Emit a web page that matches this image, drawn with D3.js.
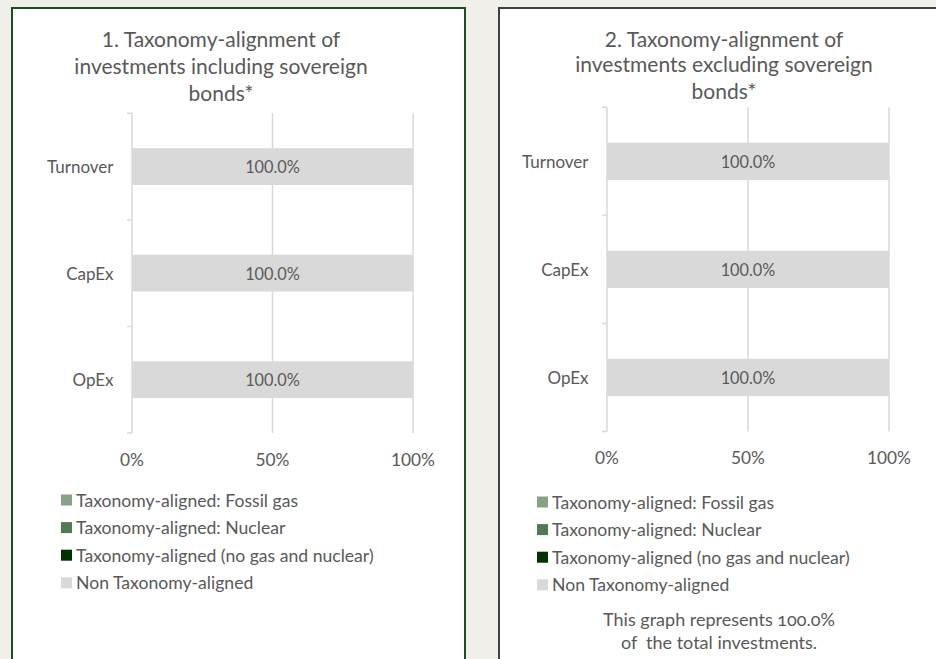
<!DOCTYPE html>
<html>
<head>
<meta charset="utf-8">
<script src="https://cdn.jsdelivr.net/npm/d3@7"></script>
<style>
  body { margin: 0; background: #f0efea; }
  svg { display: block; font-family: Lato, "Noto Sans", sans-serif; }
</style>
</head>
<body>
<div id="vis"></div>
<script>
// Datos de los dos graficos (valores en %)
const CATEGORIAS = ["Turnover", "CapEx", "OpEx"];
const SERIES = [
    "Taxonomy-aligned: Fossil gas",
    "Taxonomy-aligned: Nuclear",
    "Taxonomy-aligned (no gas and nuclear)",
    "Non Taxonomy-aligned"
];
const COLORES = ["#86a385", "#4f7a52", "#003300", "#d9d9d9"];

// una fila por categoria: [fossil gas, nuclear, aligned, non aligned]
const VALORES_1 = [
    [0, 0, 0, 100.0],
    [0, 0, 0, 100.0],
    [0, 0, 0, 100.0]
];
const VALORES_2 = [
    [0, 0, 0, 100.0],
    [0, 0, 0, 100.0],
    [0, 0, 0, 100.0]
];
const TICKS_X = [0, 50, 100];

const TITULO_1 = ["1. Taxonomy-alignment of", "investments including sovereign", "bonds*"];
const TITULO_2 = ["2. Taxonomy-alignment of", "investments excluding sovereign", "bonds*"];
const NOTA_2 = ["This graph represents 100.0%", "of  the total investments."];

const WIDTH = 936;
const HEIGHT = 659;
const GRIS_TEXTO = "#595959";
const GRIS_LINEA = "#d9d9d9";

const SVG = d3.select("#vis").append("svg")
    .attr("width", WIDTH)
    .attr("height", HEIGHT);

SVG.append("rect")
    .attr("width", WIDTH).attr("height", HEIGHT)
    .attr("fill", "#f0efea");

function crearGrafico(cfg) {
    // Marco del panel
    SVG.append("rect")
        .attr("x", cfg.marco[0]).attr("y", cfg.marco[1])
        .attr("width", cfg.marco[2]).attr("height", cfg.marco[3])
        .attr("fill", "white")
        .attr("stroke", cfg.colorMarco)
        .attr("stroke-width", 2);

    const g = SVG.append("g");

    // Titulo en tres lineas
    g.selectAll("text.titulo")
        .data(cfg.titulo)
        .join("text")
        .attr("class", "titulo")
        .attr("x", cfg.tituloX)
        .attr("y", (d, i) => cfg.tituloY[i])
        .attr("text-anchor", "middle")
        .attr("dominant-baseline", "central")
        .attr("font-size", 21)
        .attr("fill", GRIS_TEXTO)
        .text(d => d);

    const escalaX = d3.scaleLinear()
        .domain([0, 100])
        .range(cfg.rangoX);

    const escalaY = d3.scaleBand()
        .domain(CATEGORIAS)
        .range(cfg.rangoY)
        .padding(0);

    const altoBarra = escalaY.bandwidth() * 0.345;

    // Lineas de grilla verticales
    g.selectAll("line.grilla")
        .data(TICKS_X)
        .join("line")
        .attr("class", "grilla")
        .attr("x1", d => escalaX(d)).attr("x2", d => escalaX(d))
        .attr("y1", cfg.rangoY[0]).attr("y2", cfg.rangoY[1])
        .attr("stroke", GRIS_LINEA)
        .attr("stroke-width", 1.5);

    // Ticks del eje de categorias (en los bordes de cada banda)
    const bordes = CATEGORIAS.map(c => escalaY(c)).concat([cfg.rangoY[1]]);
    g.selectAll("line.tick-y")
        .data(bordes)
        .join("line")
        .attr("class", "tick-y")
        .attr("x1", escalaX(0) - 5).attr("x2", escalaX(0))
        .attr("y1", d => d).attr("y2", d => d)
        .attr("stroke", GRIS_LINEA)
        .attr("stroke-width", 1.5);

    // Barras apiladas
    const filas = CATEGORIAS.map((c, i) => {
        const fila = { categoria: c };
        SERIES.forEach((s, j) => fila[s] = cfg.valores[i][j]);
        return fila;
    });
    const apilado = d3.stack().keys(SERIES)(filas);

    const capas = g.selectAll("g.capa")
        .data(apilado)
        .join("g")
        .attr("class", "capa")
        .attr("fill", (d, i) => COLORES[i]);

    capas.selectAll("rect")
        .data(d => d)
        .join("rect")
        .attr("x", d => escalaX(d[0]))
        .attr("width", d => escalaX(d[1]) - escalaX(d[0]))
        .attr("y", d => escalaY(d.data.categoria) + (escalaY.bandwidth() - altoBarra) / 2)
        .attr("height", altoBarra);

    // Etiquetas de valor (solo segmentos no nulos)
    const segmentos = apilado.flatMap(capa => capa.filter(d => d[1] - d[0] > 0));
    g.selectAll("text.valor")
        .data(segmentos)
        .join("text")
        .attr("class", "valor")
        .attr("x", d => escalaX((d[0] + d[1]) / 2))
        .attr("y", d => escalaY(d.data.categoria) + escalaY.bandwidth() / 2)
        .attr("text-anchor", "middle")
        .attr("dominant-baseline", "central")
        .attr("font-size", 16.3)
        .attr("fill", GRIS_TEXTO)
        .text(d => (d[1] - d[0]).toFixed(1) + "%");

    // Etiquetas de categoria
    g.selectAll("text.categoria")
        .data(CATEGORIAS)
        .join("text")
        .attr("class", "categoria")
        .attr("x", escalaX(0) - 18.5)
        .attr("y", d => escalaY(d) + escalaY.bandwidth() / 2)
        .attr("text-anchor", "end")
        .attr("dominant-baseline", "central")
        .attr("font-size", 17)
        .attr("fill", GRIS_TEXTO)
        .text(d => d);

    // Etiquetas eje X
    g.selectAll("text.tick-x")
        .data(TICKS_X)
        .join("text")
        .attr("class", "tick-x")
        .attr("x", d => escalaX(d))
        .attr("y", cfg.ticksY)
        .attr("text-anchor", "middle")
        .attr("dominant-baseline", "central")
        .attr("font-size", 17.3)
        .attr("fill", GRIS_TEXTO)
        .text(d => d + "%");

    // Leyenda
    const leyenda = g.selectAll("g.leyenda")
        .data(SERIES)
        .join("g")
        .attr("class", "leyenda")
        .attr("transform", (d, i) => `translate(${cfg.leyendaX}, ${cfg.leyendaY + i * 27.6})`);
    leyenda.append("rect")
        .attr("x", 0).attr("y", -5.5)
        .attr("width", 11).attr("height", 11)
        .attr("fill", (d, i) => COLORES[i]);
    leyenda.append("text")
        .attr("x", 15)
        .attr("dominant-baseline", "central")
        .attr("font-size", 17.6)
        .attr("fill", GRIS_TEXTO)
        .text(d => d);

    // Nota al pie (solo grafico 2)
    if (cfg.nota) {
        g.selectAll("text.nota")
            .data(cfg.nota)
            .join("text")
            .attr("class", "nota")
            .attr("x", cfg.notaX)
            .attr("y", (d, i) => cfg.notaY + i * 23)
            .attr("text-anchor", "middle")
            .attr("dominant-baseline", "central")
            .attr("font-size", 18)
            .attr("fill", GRIS_TEXTO)
            .style("white-space", "pre")
            .style("font-variant-numeric", "oldstyle-nums")
            .text(d => d);
    }
}

crearGrafico({
    marco: [12, 8, 453, 700],
    colorMarco: "#1f4d22",
    titulo: TITULO_1,
    tituloX: 221,
    tituloY: [38, 65, 92],
    valores: VALORES_1,
    rangoX: [132, 413],
    rangoY: [113.3, 433],
    ticksY: 459,
    leyendaX: 61,
    leyendaY: 500
});

crearGrafico({
    marco: [499, 8, 500, 700],
    colorMarco: "#404040",
    titulo: TITULO_2,
    tituloX: 724,
    tituloY: [38, 63, 90],
    valores: VALORES_2,
    rangoX: [607, 889],
    rangoY: [107.3, 431.5],
    ticksY: 457,
    leyendaX: 537,
    leyendaY: 502,
    nota: NOTA_2,
    notaX: 719,
    notaY: 619
});
</script>
</body>
</html>
